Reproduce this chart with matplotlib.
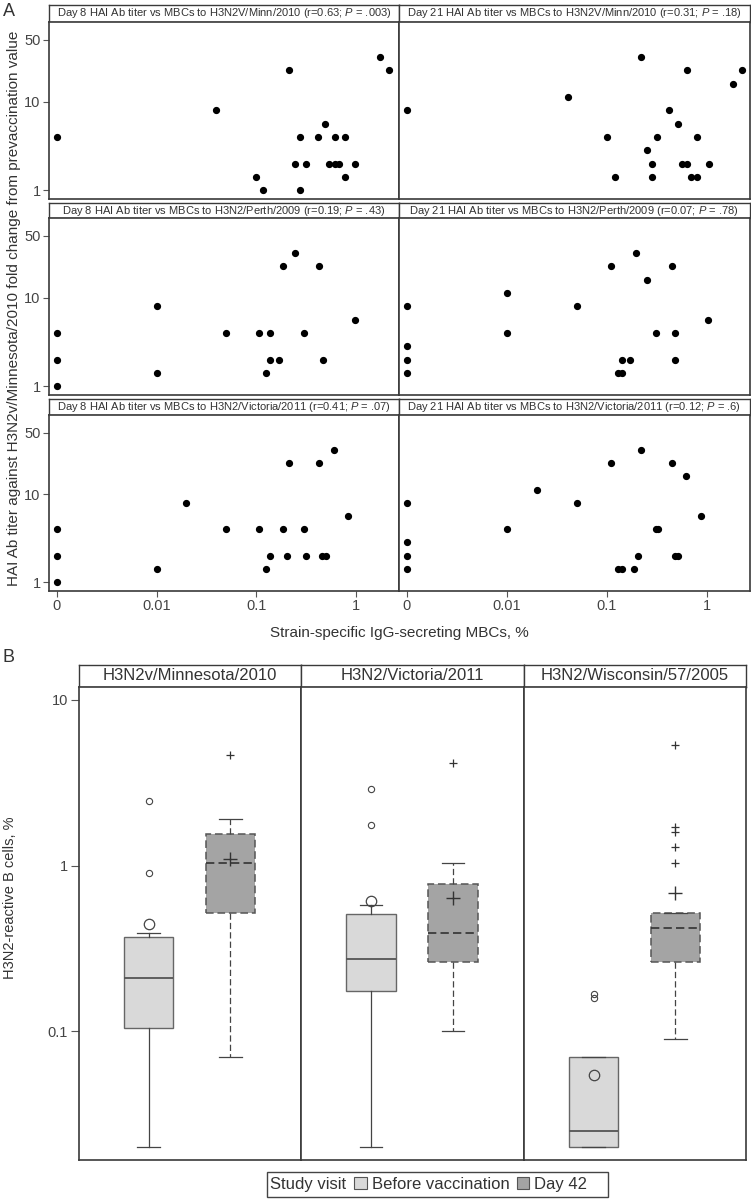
import numpy as np
import matplotlib
matplotlib.use("Agg")
import matplotlib.pyplot as plt
from matplotlib.patches import Patch, Rectangle

plt.rcParams["font.family"] = ["Liberation Sans", "DejaVu Sans"]
plt.rcParams["mathtext.fontset"] = "custom"
plt.rcParams["mathtext.rm"] = "Liberation Sans"
plt.rcParams["mathtext.it"] = "Liberation Sans:italic"

W, H = 751, 1199
TXT = "#333333"
EDGE = "#3a3a3a"
DASH = (0, (5, 2.5))

# ---- panel A: HAI fold change vs MBC % (0 drawn at 0.001) ----
A_TITLES = [
    ["Day 8 HAI Ab titer vs MBCs to H3N2V/Minn/2010 (r=0.63; $P$ = .003)",
     "Day 21 HAI Ab titer vs MBCs to H3N2V/Minn/2010 (r=0.31; $P$ = .18)"],
    ["Day 8 HAI Ab titer vs MBCs to H3N2/Perth/2009 (r=0.19; $P$ = .43)",
     "Day 21 HAI Ab titer vs MBCs to H3N2/Perth/2009 (r=0.07; $P$ = .78)"],
    ["Day 8 HAI Ab titer vs MBCs to H3N2/Victoria/2011 (r=0.41; $P$ = .07)",
     "Day 21 HAI Ab titer vs MBCs to H3N2/Victoria/2011 (r=0.12; $P$ = .6)"],
]

minn_d8_x = [0, 0.039, 0.098, 0.117, 0.214, 0.242, 0.271, 0.271, 0.311, 0.41,
             0.493, 0.537, 0.612, 0.612, 0.671, 0.77, 0.77, 0.985, 1.74, 2.12]
minn_d8_y = [4, 8, 1.41, 1, 22.6, 2, 4, 1, 2, 4,
             5.66, 2, 4, 2, 2, 4, 1.41, 2, 32, 22.6]
minn_d21_x = [0, 0.0405, 0.101, 0.122, 0.222, 0.253, 0.284, 0.284, 0.322, 0.425,
              0.512, 0.566, 0.63, 0.635, 0.697, 0.808, 0.808, 1.05, 1.83, 2.25]
minn_d21_y = [8, 11.3, 4, 1.41, 32, 2.83, 2, 1.41, 4, 8,
              5.66, 2, 2, 22.6, 1.41, 4, 1.41, 2, 16, 22.6]
perth_d8_x = [0, 0, 0, 0.01, 0.01, 0.049, 0.107, 0.126, 0.137, 0.137,
              0.167, 0.186, 0.242, 0.3, 0.427, 0.464, 0.977]
perth_d8_y = [4, 2, 1, 8, 1.41, 4, 4, 1.41, 4, 2,
              2, 22.6, 32, 4, 22.6, 2, 5.66]
perth_d21_x = [0, 0, 0, 0, 0.01, 0.01, 0.0507, 0.111, 0.13, 0.142,
               0.142, 0.172, 0.195, 0.253, 0.314, 0.449, 0.485, 0.485, 1.03]
perth_d21_y = [8, 2.83, 2, 1.41, 11.3, 4, 8, 22.6, 1.41, 1.41,
               2, 2, 32, 16, 4, 22.6, 4, 2, 5.66]
vic_d8_x = [0, 0, 0, 0.01, 0.0198, 0.049, 0.107, 0.126, 0.137, 0.186,
            0.204, 0.214, 0.3, 0.311, 0.427, 0.46, 0.497, 0.603, 0.832]
vic_d8_y = [4, 2, 1, 1.41, 8, 4, 4, 1.41, 2, 4,
            2, 22.6, 4, 2, 22.6, 2, 2, 32, 5.66]
vic_d21_x = [0, 0, 0, 0, 0.01, 0.02, 0.0507, 0.111, 0.13, 0.142,
             0.188, 0.206, 0.222, 0.312, 0.327, 0.446, 0.481, 0.516, 0.621, 0.872]
vic_d21_y = [8, 2.83, 2, 1.41, 4, 11.3, 8, 22.6, 1.41, 1.41,
             1.41, 2, 32, 4, 4, 22.6, 2, 2, 16, 5.66]

A_DATA = [[(minn_d8_x, minn_d8_y), (minn_d21_x, minn_d21_y)],
          [(perth_d8_x, perth_d8_y), (perth_d21_x, perth_d21_y)],
          [(vic_d8_x, vic_d8_y), (vic_d21_x, vic_d21_y)]]
ZERO_AT = 0.001
A_XTICKS = [0.001, 0.01, 0.1, 1]
A_XLABELS = ["0", "0.01", "0.1", "1"]
A_YTICKS = [1, 10, 50]

# ---- panel B: H3N2-reactive B cells, % ----
B_STRAINS = ["H3N2v/Minnesota/2010", "H3N2/Victoria/2011", "H3N2/Wisconsin/57/2005"]
B_VISITS = ["Before vaccination", "Day 42"]
before_q1 = [0.105, 0.175, 0.02]
before_med = [0.209, 0.275, 0.025]
before_q3 = [0.37, 0.513, 0.07]
before_lo = [0.02, 0.02, 0.02]
before_hi = [0.39, 0.58, 0.07]
before_mean = [0.443, 0.61, 0.0546]
before_out = [[2.45, 0.9], [2.89, 1.77], [0.168, 0.158]]
day42_q1 = [0.52, 0.261, 0.261]
day42_med = [1.04, 0.39, 0.419]
day42_q3 = [1.56, 0.776, 0.52]
day42_lo = [0.07, 0.1, 0.09]
day42_hi = [1.91, 1.04, 0.52]
day42_mean = [1.10, 0.635, 0.687]
day42_out = [[4.64], [4.19], [5.33, 1.71, 1.60, 1.30, 1.04]]
B_YTICKS = [0.1, 1, 10]
B_YLABELS = ["0.1", "1", "10"]


def px(l, t, r, b):
    return [l / W, 1 - b / H, (r - l) / W, (b - t) / H]


def strip(fig, l, t, r, b, text, size):
    s = fig.add_axes(px(l, t, r, b))
    s.set_xticks([])
    s.set_yticks([])
    for sp in s.spines.values():
        sp.set_color(EDGE)
        sp.set_linewidth(1.0)
    s.text(0.5, 0.5, text, ha="center", va="center", fontsize=size, color=TXT,
           transform=s.transAxes)
    return s


fig = plt.figure(figsize=(W / 100, H / 100), dpi=100)

rows_a = [(5, 22, 199), (203, 218, 395), (399, 415, 591)]
cols_a = [(49, 399), (399, 749.5)]
for i, (st, pt, pb) in enumerate(rows_a):
    for j, (l, r) in enumerate(cols_a):
        strip(fig, l, st, r, pt, A_TITLES[i][j], 8)
        ax = fig.add_axes(px(l, pt, r, pb))
        xs, ys = A_DATA[i][j]
        xs = [ZERO_AT if v == 0 else v for v in xs]
        ax.plot(xs, ys, "o", color="black", ms=4.2, mec="black")
        ax.set_xscale("log")
        ax.set_yscale("log")
        ax.set_xlim(10 ** -3.08, 10 ** 0.43)
        ax.set_ylim(10 ** -0.1, 10 ** 1.9)
        ax.minorticks_off()
        for sp in ax.spines.values():
            sp.set_color(EDGE)
            sp.set_linewidth(1.2)
        ax.tick_params(length=4, width=0.8, color="#555555", labelsize=10.5,
                       labelcolor="#444444", pad=2)
        if j == 0:
            ax.set_yticks(A_YTICKS)
            ax.set_yticklabels([str(v) for v in A_YTICKS])
        else:
            ax.set_yticks([])
        if i == 2:
            ax.set_xticks(A_XTICKS)
            ax.set_xticklabels(A_XLABELS)
        else:
            ax.set_xticks([])

fig.text(14 / W, 1 - 308 / H,
         "HAI Ab titer against H3N2v/Minnesota/2010 fold change from prevaccination value",
         rotation=90, ha="center", va="center", fontsize=11, color=TXT)
fig.text(399 / W, 1 - 633 / H, "Strain-specific IgG-secreting MBCs, %",
         ha="center", va="center", fontsize=11, color=TXT)
fig.text(3 / W, 1 - 11 / H, "A", ha="left", va="center", fontsize=13, color=TXT)
fig.text(3 / W, 1 - 657 / H, "B", ha="left", va="center", fontsize=13, color=TXT)

# ---- panel B ----
LIGHT, DARK = "#d9d9d9", "#a4a4a4"
cols_b = [(79, 301), (301, 524), (524, 746)]
for k, (l, r) in enumerate(cols_b):
    strip(fig, l, 665, r, 687, B_STRAINS[k], 12)
    ax = fig.add_axes(px(l, 687, r, 1160))
    before = dict(q1=before_q1[k], med=before_med[k], q3=before_q3[k],
                  whislo=before_lo[k], whishi=before_hi[k],
                  mean=before_mean[k], fliers=before_out[k])
    day42 = dict(q1=day42_q1[k], med=day42_med[k], q3=day42_q3[k],
                 whislo=day42_lo[k], whishi=day42_hi[k],
                 mean=day42_mean[k], fliers=day42_out[k])
    ax.bxp([before], positions=[1], widths=0.6, capwidths=0.28,
           showmeans=True, patch_artist=True,
           boxprops=dict(facecolor=LIGHT, edgecolor="#666666", lw=1.0),
           medianprops=dict(color="#555555", lw=1.3),
           whiskerprops=dict(color="#444444", lw=0.9),
           capprops=dict(color="#444444", lw=0.9),
           meanprops=dict(marker="o", ms=7.5, mfc="none", mec="#444444", mew=0.9),
           flierprops=dict(marker="o", ms=4.5, mfc="none", mec="#444444", mew=0.8))
    ax.bxp([day42], positions=[2], widths=0.6, capwidths=0.28,
           showmeans=True, patch_artist=True,
           boxprops=dict(facecolor=DARK, edgecolor="#555555", lw=1.1, ls=DASH),
           medianprops=dict(color="#333333", lw=1.2, ls=DASH),
           whiskerprops=dict(color="#444444", lw=0.9, ls=DASH),
           capprops=dict(color="#444444", lw=0.9),
           meanprops=dict(marker="+", ms=10, mec="#333333", mew=1.0),
           flierprops=dict(marker="+", ms=6, mec="#333333", mew=0.9))
    ax.set_yscale("log")
    ax.set_ylim(10 ** -1.776, 10 ** 1.078)
    ax.set_xlim(0.146, 2.866)
    ax.minorticks_off()
    ax.set_xticks([])
    for sp in ax.spines.values():
        sp.set_color(EDGE)
        sp.set_linewidth(1.2)
    ax.tick_params(length=6, width=0.8, color="#555555", labelsize=10.5,
                   labelcolor="#444444", pad=2)
    if k == 0:
        ax.set_yticks(B_YTICKS)
        ax.set_yticklabels(B_YLABELS)
    else:
        ax.set_yticks([])

fig.text(10 / W, 1 - 898 / H, "H3N2-reactive B cells, %", rotation=90,
         ha="center", va="center", fontsize=10.5, color=TXT)

# legend: "Study visit" + two swatches inside one frame
fig.patches.append(Rectangle((267 / W, 1 - 1197 / H), (608 - 267) / W, 25 / H,
                             transform=fig.transFigure, fill=False,
                             edgecolor="#444444", lw=1.0))
fig.text(270 / W, 1 - 1184.5 / H, "Study visit", ha="left", va="center",
         fontsize=12, color=TXT)
handles = [Patch(facecolor=LIGHT, edgecolor="#555555", lw=0.8, label=B_VISITS[0]),
           Patch(facecolor=DARK, edgecolor="#555555", lw=0.8, label=B_VISITS[1])]
fig.legend(handles=handles, loc="center left", bbox_to_anchor=(354 / W, 1 - 1184.5 / H),
           ncol=2, frameon=False, fontsize=12, handlelength=0.75, handleheight=0.75,
           handletextpad=0.3, columnspacing=0.45, borderpad=0, borderaxespad=0,
           labelcolor=TXT)

fig.savefig("out.png", dpi=100)
